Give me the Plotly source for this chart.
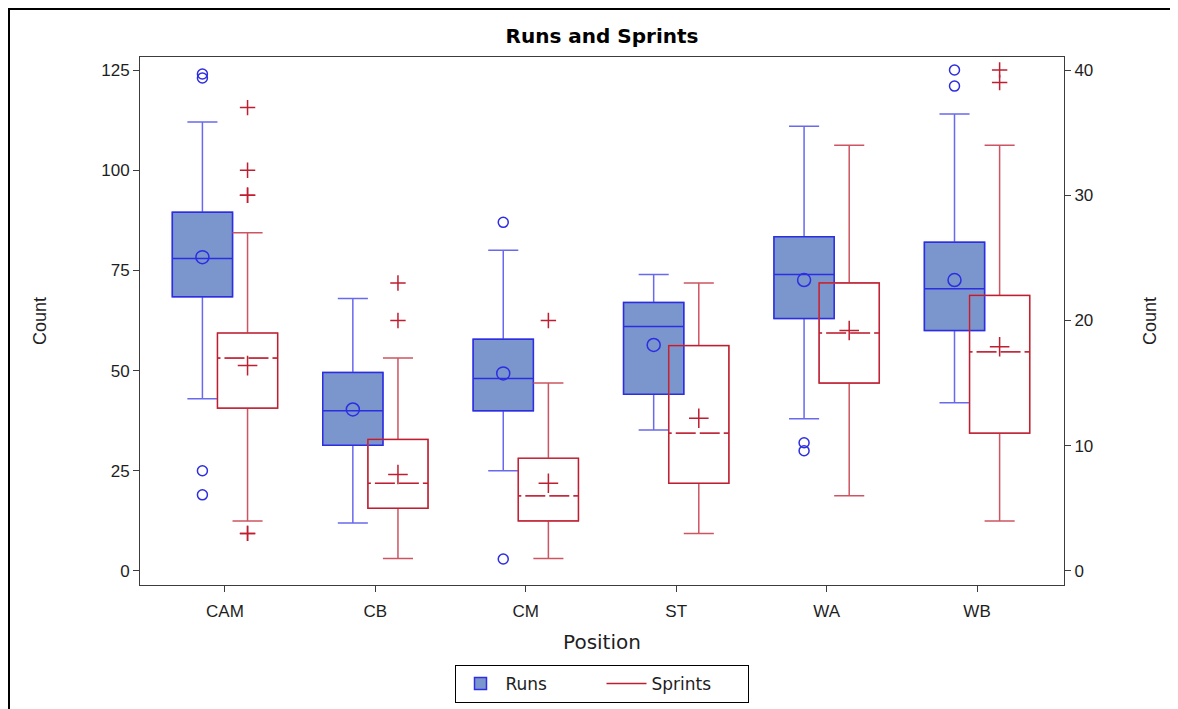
import plotly.graph_objects as go

positions = ["CAM", "CB", "CM", "ST", "WA", "WB"]

# Runs (left axis)
runs_q1 = [68.4, 31.4, 40.0, 44.1, 63.0, 60.0]
runs_median = [78.0, 40.0, 48.0, 61.0, 74.0, 70.4]
runs_q3 = [89.5, 49.5, 57.8, 67.0, 83.4, 82.0]
runs_low = [43.0, 12.0, 25.0, 35.2, 38.0, 42.0]
runs_high = [112.0, 68.0, 80.0, 74.0, 111.0, 114.0]
runs_mean = [78.3, 40.3, 49.3, 56.4, 72.6, 72.6]
runs_outliers = {"CAM": [124, 123, 25, 19], "CM": [87, 3], "WA": [32, 30], "WB": [125, 121]}

# Sprints (right axis)
spr_q1 = [13.0, 5.0, 4.0, 7.0, 15.0, 11.0]
spr_median = [17.0, 7.0, 6.0, 11.0, 19.0, 17.5]
spr_q3 = [19.0, 10.5, 9.0, 18.0, 23.0, 22.0]
spr_low = [4.0, 1.0, 1.0, 3.0, 6.0, 4.0]
spr_high = [27.0, 17.0, 15.0, 23.0, 34.0, 34.0]
spr_mean = [16.4, 7.7, 7.0, 12.2, 19.2, 17.9]
spr_outliers = {"CAM": [37, 32, 30, 30, 3, 3], "CB": [23, 20], "CM": [20], "WB": [40, 39]}

OFF = 0.15
BW = 0.4
BLUE = "rgb(45,45,225)"
BLUE_LIGHT = "rgb(105,105,238)"
BLUE_FILL = "rgb(122,150,204)"
RED = "rgb(190,30,48)"
RED_LIGHT = "rgb(205,85,98)"

idx = list(range(len(positions)))
xr = [i - OFF for i in idx]
xs = [i + OFF for i in idx]

fig = go.Figure()

# Runs: whiskers (lighter) then the box itself (fences = quartiles, so no whisker)
fig.add_trace(go.Box(
    name="Runs", x=xr, q1=runs_q1, median=runs_median, q3=runs_q3,
    lowerfence=runs_low, upperfence=runs_high, width=BW, whiskerwidth=0.5,
    boxpoints=False, fillcolor=BLUE_FILL, line=dict(color=BLUE_LIGHT, width=1.5),
    yaxis="y", showlegend=False, hoverinfo="skip"))
fig.add_trace(go.Box(
    name="Runs", x=xr, q1=runs_q1, median=runs_median, q3=runs_q3,
    lowerfence=runs_q1, upperfence=runs_q3, width=BW, whiskerwidth=0.5,
    boxpoints=False, fillcolor=BLUE_FILL, line=dict(color=BLUE, width=1.5),
    yaxis="y", showlegend=True, hoverinfo="skip"))

# Sprints
fig.add_trace(go.Box(
    name="Sprints", x=xs, q1=spr_q1, median=spr_median, q3=spr_q3,
    lowerfence=spr_low, upperfence=spr_high, width=BW, whiskerwidth=0.5,
    boxpoints=False, fillcolor="rgba(255,255,255,0)", line=dict(color=RED_LIGHT, width=1.5),
    yaxis="y2", showlegend=False, hoverinfo="skip"))
fig.add_trace(go.Box(
    name="Sprints", x=xs, q1=spr_q1, median=spr_median, q3=spr_q3,
    lowerfence=spr_q1, upperfence=spr_q3, width=BW, whiskerwidth=0.5,
    boxpoints=False, fillcolor="rgba(255,255,255,0)", line=dict(color=RED, width=1.2),
    yaxis="y2", showlegend=False, hoverinfo="skip"))

# dashed look on the Sprints median: white gaps over the median line
gx, gy = [], []
for i, m in zip(xs, spr_median):
    gx += [i - BW / 2 + 0.02, i + BW / 2 - 0.02, None]
    gy += [m, m, None]
fig.add_trace(go.Scatter(x=gx, y=gy, mode="lines", yaxis="y2", showlegend=False,
                         line=dict(color="white", width=3, dash="4px,20px"), hoverinfo="skip"))

# outliers
ox, oy = [], []
for i, p in enumerate(positions):
    for v in runs_outliers.get(p, []):
        ox.append(i - OFF); oy.append(v)
fig.add_trace(go.Scatter(x=ox, y=oy, mode="markers", yaxis="y", showlegend=False,
                         marker=dict(symbol="circle-open", size=10, color=BLUE, line=dict(width=1.5)),
                         hoverinfo="skip"))
sx, sy = [], []
for i, p in enumerate(positions):
    for v in spr_outliers.get(p, []):
        sx.append(i + OFF); sy.append(v)
fig.add_trace(go.Scatter(x=sx, y=sy, mode="markers", yaxis="y2", showlegend=False,
                         marker=dict(symbol="cross-thin-open", size=11, color=RED, line=dict(width=1.5, color=RED)),
                         hoverinfo="skip"))

# means
fig.add_trace(go.Scatter(x=xr, y=runs_mean, mode="markers", yaxis="y", showlegend=False,
                         marker=dict(symbol="circle-open", size=13, color=BLUE, line=dict(width=1.5)),
                         hoverinfo="skip"))
fig.add_trace(go.Scatter(x=xs, y=spr_mean, mode="markers", yaxis="y2", showlegend=False,
                         marker=dict(symbol="cross-thin-open", size=14, color=RED, line=dict(width=1.5, color=RED)),
                         hoverinfo="skip"))

# legend entry for Sprints drawn as a line
fig.add_trace(go.Scatter(x=[None], y=[None], mode="lines", name="Sprints", yaxis="y2",
                         line=dict(color=RED, width=1.5), showlegend=True))

AX = "rgb(60,60,60)"
FONT = "Liberation Sans, Arial, sans-serif"
WIDE = "DejaVu Sans, Verdana, sans-serif"

# page body adds an 8px offset; figure is sized to fill the rest of the window
W, H = 1170, 701
L, T = 132, 49
PW, PH = 924, 528
R = W - L - PW
B = H - T - PH

def px(xp):
    return (xp - L) / PW

def py(yp):
    return (T + PH - yp) / PH

fig.update_layout(
    width=W, height=H,
    margin=dict(l=L, r=R, t=T, b=B),
    paper_bgcolor="white", plot_bgcolor="white",
    font=dict(family=FONT, size=17, color="rgb(30,30,30)"),
    title=dict(text="<b>Runs and Sprints</b>", x=(L + PW / 2) / W, xanchor="center",
               y=1 - 28 / H, yanchor="middle",
               font=dict(family=WIDE, size=20, color="black")),
    xaxis=dict(range=[-0.565, 5.578], tickvals=idx, ticktext=positions,
               showline=True, linecolor=AX, linewidth=1, mirror=True,
               ticks="outside", ticklen=6, tickcolor=AX, showgrid=False, zeroline=False,
               ticklabelstandoff=5,
               title=dict(text="Position", standoff=14, font=dict(family=WIDE, size=20))),
    yaxis=dict(range=[-3.5, 128.25], tickvals=[0, 25, 50, 75, 100, 125],
               showline=True, linecolor=AX, linewidth=1, ticks="outside", ticklen=6,
               tickcolor=AX, showgrid=False, zeroline=False,
               title=dict(text="Count", standoff=49, font=dict(size=18))),
    yaxis2=dict(range=[-1.12, 41.04], tickvals=[0, 10, 20, 30, 40], overlaying="y", side="right",
                showline=True, linecolor=AX, linewidth=1, ticks="outside", ticklen=6,
                tickcolor=AX, showgrid=False, zeroline=False,
                title=dict(text="Count", standoff=51, font=dict(size=18))),
    legend=dict(orientation="h", xref="container", yref="container",
                x=((455 + 748) / 2 - 8) / W, xanchor="center",
                y=1 - (684 - 8) / H, yanchor="middle", bordercolor="black", borderwidth=1,
                font=dict(family=WIDE, size=17), itemwidth=40, tracegroupgap=0,
                entrywidth=91, entrywidthmode="pixels"),
    shapes=[
        dict(type="line", xref="paper", yref="paper", x0=px(0), x1=px(W),
             y0=py(1), y1=py(1), line=dict(color="black", width=2)),
        dict(type="line", xref="paper", yref="paper", x0=px(1), x1=px(1),
             y0=py(0), y1=py(H), line=dict(color="black", width=2)),
    ],
)

fig.write_html("out.html")
